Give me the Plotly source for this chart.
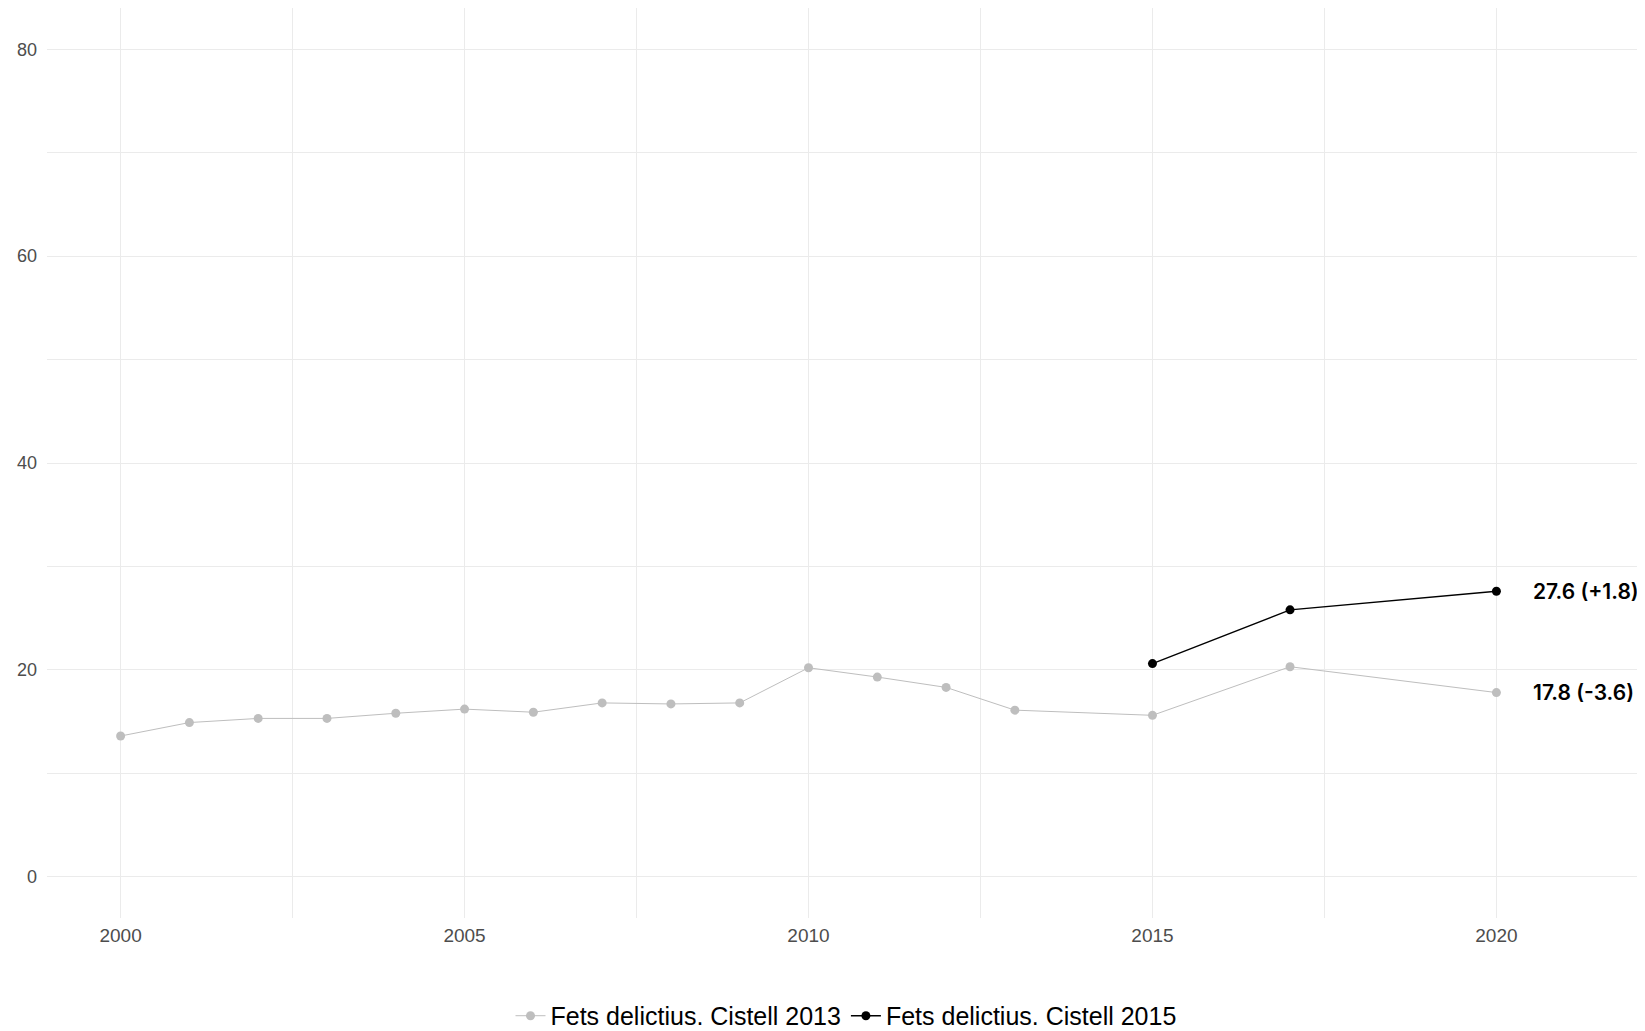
import plotly.graph_objects as go

years_2013 = [2000, 2001, 2002, 2003, 2004, 2005, 2006, 2007, 2008, 2009,
              2010, 2011, 2012, 2013, 2015, 2017, 2020]
values_2013 = [13.6, 14.9, 15.3, 15.3, 15.8, 16.2, 15.9, 16.8, 16.7, 16.8,
               20.2, 19.3, 18.3, 16.1, 15.6, 20.3, 17.8]
years_2015 = [2015, 2017, 2020]
values_2015 = [20.6, 25.8, 27.6]
name_2013 = "Fets delictius. Cistell 2013"
name_2015 = "Fets delictius. Cistell 2015"
label_2013 = "17.8 (-3.6)"
label_2015 = "27.6 (+1.8)"

GRAY = "#BEBEBE"
GRID = "#EBEBEB"

fig = go.Figure()
fig.add_trace(go.Scatter(
    x=years_2013, y=values_2013, mode="lines+markers", name=name_2013,
    line=dict(color=GRAY, width=1), marker=dict(color=GRAY, size=9),
))
fig.add_trace(go.Scatter(
    x=years_2015, y=values_2015, mode="lines+markers", name=name_2015,
    line=dict(color="black", width=1.4), marker=dict(color="black", size=9),
))

for xv, yv, txt in [(years_2013[-1], values_2013[-1], label_2013),
                    (years_2015[-1], values_2015[-1], label_2015)]:
    fig.add_annotation(x=xv, y=yv, text=txt, showarrow=False, xanchor="left",
                       xshift=35, font=dict(family="Inter", size=21, weight=600, color="black"))

fig.update_layout(
    width=1637, height=1023,
    plot_bgcolor="white", paper_bgcolor="white",
    margin=dict(l=39, r=0, t=0, b=113, autoexpand=False),
    font=dict(family="Liberation Sans", color="#4D4D4D"),
    showlegend=True,
    legend=dict(orientation="h", x=0.5, xanchor="center", yref="container",
                y=0.0147, yanchor="middle",
                font=dict(size=25, color="black"), tracegroupgap=0),
)
fig.update_xaxes(
    range=[1998.93, 2022.16], tick0=2000, dtick=5, showgrid=True, gridcolor=GRID,
    gridwidth=1, zeroline=False, ticks="", tickfont=dict(size=19, color="#4D4D4D"),
    minor=dict(tick0=2000, dtick=2.5, showgrid=True, gridcolor=GRID, gridwidth=1),
    showline=False, automargin=False, ticklabelstandoff=4,
)
fig.update_yaxes(
    range=[-4, 84], tick0=0, dtick=20, showgrid=True, gridcolor=GRID, gridwidth=1,
    zeroline=False, ticks="", tickfont=dict(size=18, color="#4D4D4D"),
    minor=dict(tick0=0, dtick=10, showgrid=True, gridcolor=GRID, gridwidth=1),
    showline=False, automargin=False, ticklabelstandoff=9,
)

fig.write_html("out.html")
